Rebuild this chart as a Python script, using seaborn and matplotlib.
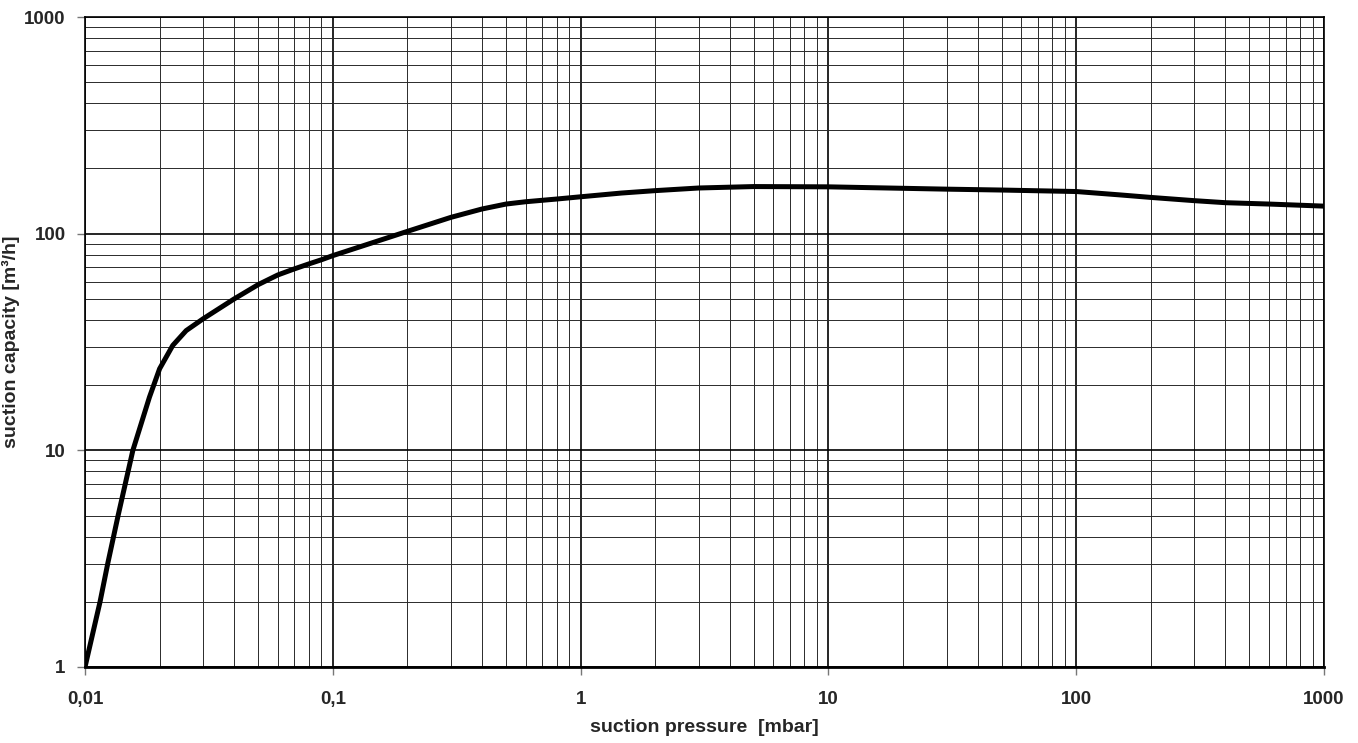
import numpy as np
import pandas as pd
import seaborn as sns
import matplotlib.pyplot as plt
from matplotlib.ticker import LogLocator, FixedLocator, FixedFormatter, NullFormatter

# 吸引圧力 [mbar] と 排気速度 [m3/h]
pressure = [0.01, 0.0115, 0.01235, 0.0136, 0.0156, 0.0182, 0.02, 0.0226, 0.0256, 0.03,
            0.04, 0.05, 0.06, 0.07, 0.08, 0.09, 0.1, 0.2, 0.3, 0.4, 0.5, 0.6, 0.8, 1,
            1.46, 2, 3, 5, 10, 30, 50, 100, 150, 200, 300, 400, 600, 1000]
capacity = [1, 2, 3, 5, 10, 17.6, 23.8, 30.5, 35.7, 40.5,
            50, 58.2, 64.5, 68.8, 72.5, 75.8, 79.2, 102.5, 119, 130, 137, 140.4, 144.5, 148,
            154, 158, 162.5, 165, 164.5, 160.5, 159, 156.5, 151, 147, 142, 139, 137, 134]

x_ticks = [0.01, 0.1, 1, 10, 100, 1000]
x_labels = ['0,01', '0,1', '1', '10', '100', '1000']
y_ticks = [1, 10, 100, 1000]
y_labels = ['1', '10', '100', '1000']

df = pd.DataFrame({'pressure': pressure, 'capacity': capacity})

sns.set_style('white')
plt.rcParams['font.family'] = ['Liberation Sans', 'DejaVu Sans']
plt.rcParams['font.weight'] = 'bold'

fig = plt.figure(figsize=(13.58, 7.43), dpi=100)
ax = fig.add_axes([0.0626, 0.1023, 0.9124, 0.8748])

sns.lineplot(data=df, x='pressure', y='capacity', color='black', linewidth=3.6, ax=ax, zorder=5)

ax.set_xscale('log')
ax.set_yscale('log')
ax.set_xlim(0.01, 1000)
ax.set_ylim(1, 1000)

ax.xaxis.set_major_locator(FixedLocator(x_ticks))
ax.xaxis.set_major_formatter(FixedFormatter(x_labels))
ax.yaxis.set_major_locator(FixedLocator(y_ticks))
ax.yaxis.set_major_formatter(FixedFormatter(y_labels))
ax.xaxis.set_minor_locator(LogLocator(base=10, subs=np.arange(2, 10), numticks=20))
ax.yaxis.set_minor_locator(LogLocator(base=10, subs=np.arange(2, 10), numticks=20))
ax.xaxis.set_minor_formatter(NullFormatter())
ax.yaxis.set_minor_formatter(NullFormatter())

ax.grid(which='major', color='black', linewidth=1.2)
ax.grid(which='minor', color='#2a2a2a', linewidth=0.7)
ax.set_axisbelow(True)

ax.tick_params(which='major', direction='out', length=6, width=1, color='#777777',
               labelsize=13.5, bottom=True, left=True)
ax.tick_params(axis='x', which='major', pad=11)
ax.tick_params(axis='y', which='major', pad=8)
ax.tick_params(which='minor', length=0)
for lbl in ax.get_xticklabels() + ax.get_yticklabels():
    lbl.set_fontweight('bold')

for side in ['left', 'right', 'top']:
    ax.spines[side].set_color('black')
    ax.spines[side].set_linewidth(1.2)
ax.spines['bottom'].set_color('black')
ax.spines['bottom'].set_linewidth(2)

ax.set_xlabel('suction pressure  [mbar]', fontsize=14, fontweight='bold', labelpad=8)
ax.set_ylabel('suction capacity [m³/h]', fontsize=14, fontweight='bold', labelpad=3)

fig.savefig('out.png', dpi=100)
plt.close()
